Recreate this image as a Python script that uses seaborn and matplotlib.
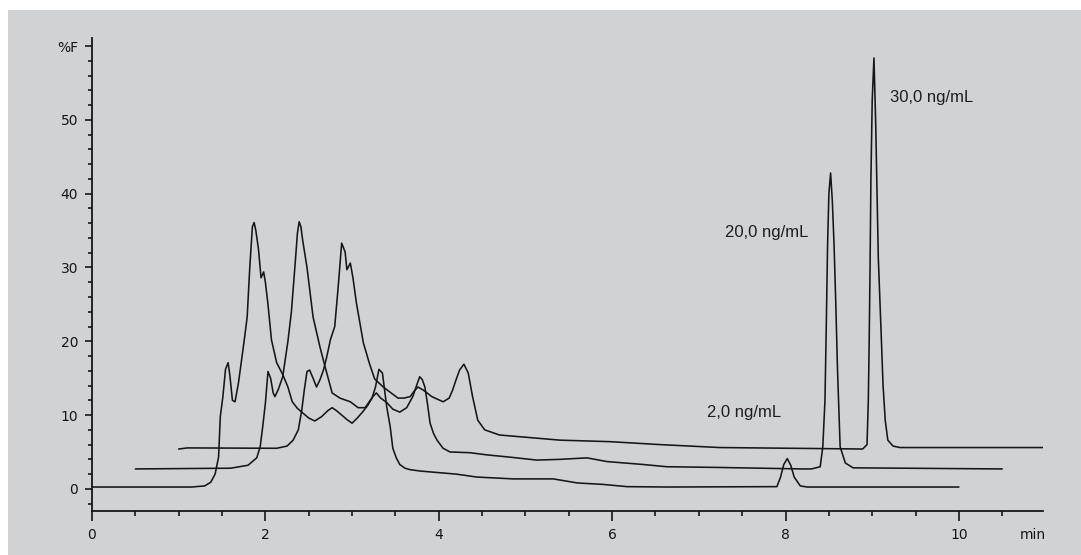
import numpy as np
import matplotlib
matplotlib.use("Agg")
import matplotlib.pyplot as plt
from matplotlib.patches import Rectangle
from matplotlib.ticker import MultipleLocator
import seaborn as sns

# chromatogram traces, (time in min, %F)
trace_2ng = [
    (0.00, 0.25), (1.15, 0.25), (1.30, 0.4), (1.37, 0.9), (1.42, 2.0), (1.46, 4.3),
    (1.48, 9.8), (1.51, 12.5), (1.54, 16.2), (1.57, 17.1), (1.59, 15.4), (1.62, 12.0),
    (1.65, 11.8), (1.69, 14.4), (1.72, 17.0), (1.76, 20.5), (1.79, 23.3), (1.82, 30.0),
    (1.85, 35.5), (1.87, 36.1), (1.89, 35.0), (1.92, 32.5), (1.95, 28.6), (1.98, 29.4),
    (2.00, 28.0), (2.03, 25.0), (2.07, 20.2), (2.13, 17.1), (2.20, 15.5), (2.26, 13.8),
    (2.31, 11.8), (2.37, 10.9), (2.42, 10.4), (2.50, 9.6), (2.57, 9.2), (2.65, 9.8),
    (2.72, 10.6), (2.77, 11.0), (2.82, 10.6), (2.88, 10.0), (2.94, 9.4), (3.00, 8.9),
    (3.06, 9.6), (3.12, 10.4), (3.18, 11.3), (3.23, 12.3), (3.27, 13.8), (3.31, 16.2),
    (3.35, 15.7), (3.40, 11.1), (3.44, 8.4), (3.47, 5.5), (3.51, 4.2), (3.55, 3.3),
    (3.61, 2.8), (3.67, 2.6), (3.80, 2.4), (4.00, 2.2), (4.20, 2.0), (4.44, 1.6),
    (4.86, 1.35), (5.32, 1.35), (5.60, 0.8), (5.90, 0.6), (6.17, 0.3), (6.64, 0.25),
    (7.90, 0.3), (7.94, 1.5), (7.98, 3.3), (8.02, 4.1), (8.06, 3.2), (8.10, 1.6),
    (8.17, 0.4), (8.25, 0.25), (10.00, 0.25),
]

trace_20ng = [
    (0.50, 2.7), (1.60, 2.8), (1.80, 3.2), (1.90, 4.2), (1.94, 5.7), (1.97, 8.5),
    (2.00, 11.6), (2.03, 15.9), (2.06, 15.0), (2.09, 13.0), (2.11, 12.5), (2.15, 13.5),
    (2.20, 15.2), (2.26, 20.0), (2.30, 24.0), (2.34, 30.0), (2.37, 34.7), (2.39, 36.2),
    (2.41, 35.5), (2.43, 33.7), (2.48, 30.0), (2.55, 23.3), (2.63, 19.2), (2.69, 16.5),
    (2.77, 13.0), (2.86, 12.3), (2.98, 11.8), (3.07, 11.0), (3.15, 11.0), (3.24, 12.5),
    (3.28, 13.0), (3.33, 12.3), (3.40, 11.7), (3.47, 10.8), (3.55, 10.4), (3.63, 11.0),
    (3.70, 12.5), (3.75, 14.2), (3.78, 15.2), (3.81, 14.8), (3.84, 13.8), (3.87, 11.5),
    (3.90, 8.9), (3.94, 7.5), (3.98, 6.6), (4.05, 5.5), (4.13, 5.0), (4.36, 4.9),
    (4.56, 4.6), (4.82, 4.3), (5.13, 3.9), (5.40, 4.0), (5.71, 4.2), (5.94, 3.7),
    (6.36, 3.3), (6.63, 3.0), (7.24, 2.9), (8.19, 2.7), (8.30, 2.7), (8.40, 3.0),
    (8.43, 5.7), (8.455, 12.0), (8.47, 22.0), (8.485, 33.0), (8.50, 40.0), (8.52, 42.8),
    (8.54, 39.0), (8.56, 33.0), (8.58, 25.0), (8.60, 16.0), (8.63, 5.7), (8.69, 3.5),
    (8.78, 2.85), (10.50, 2.7),
]

trace_30ng = [
    (1.00, 5.4), (1.10, 5.55), (2.13, 5.5), (2.25, 5.8), (2.32, 6.6), (2.38, 8.0),
    (2.42, 10.7), (2.45, 13.5), (2.48, 15.9), (2.51, 16.1), (2.55, 15.0), (2.59, 13.8),
    (2.63, 14.8), (2.67, 16.1), (2.71, 18.0), (2.75, 20.2), (2.80, 22.0), (2.84, 27.4),
    (2.88, 33.3), (2.92, 32.1), (2.94, 29.7), (2.98, 30.6), (3.01, 28.6), (3.05, 25.2),
    (3.09, 22.5), (3.13, 19.8), (3.20, 17.0), (3.26, 14.9), (3.36, 13.8), (3.45, 13.0),
    (3.53, 12.3), (3.60, 12.3), (3.67, 12.5), (3.72, 13.3), (3.76, 13.8), (3.82, 13.4),
    (3.92, 12.5), (4.05, 11.8), (4.12, 12.3), (4.16, 13.4), (4.20, 14.8), (4.24, 16.1),
    (4.29, 16.9), (4.34, 15.7), (4.39, 12.5), (4.45, 9.3), (4.53, 8.0), (4.70, 7.3),
    (5.00, 7.0), (5.40, 6.6), (5.97, 6.4), (6.55, 6.0), (7.24, 5.6), (8.89, 5.4),
    (8.94, 6.0), (8.955, 12.0), (8.965, 20.0), (8.975, 30.0), (8.985, 42.0), (9.00, 52.7),
    (9.02, 58.4), (9.04, 49.6), (9.07, 31.4), (9.10, 22.0), (9.125, 14.0), (9.15, 9.3),
    (9.18, 6.6), (9.24, 5.8), (9.32, 5.6), (10.97, 5.6),
]

traces = [trace_2ng, trace_20ng, trace_30ng]
labels = ["2,0 ng/mL", "20,0 ng/mL", "30,0 ng/mL"]
label_pos = [(7.09, 10.4), (7.30, 34.8), (9.20, 53.1)]

x_ticks = [0, 2, 4, 6, 8, 10]
y_ticks = [0, 10, 20, 30, 40, 50, 60]
y_tick_labels = ["0", "10", "20", "30", "40", "50", "%F"]

bg = "#d1d2d4"
ink = "#161616"

sns.set_style("ticks")
plt.rcParams["font.family"] = ["DejaVu Sans"]

fig = plt.figure(figsize=(10.81, 5.55), dpi=100)
fig.patch.set_facecolor("white")
fig.patches.append(Rectangle((8 / 1081, 0), 1, 1 - 10 / 555,
                             transform=fig.transFigure, facecolor=bg,
                             edgecolor="none", zorder=-10))

ax = fig.add_axes([92 / 1081, 44 / 555, 951 / 1081, 473 / 555])
ax.set_facecolor("none")

for tr in traces:
    t = np.array([p[0] for p in tr])
    s = np.array([p[1] for p in tr])
    sns.lineplot(x=t, y=s, sort=False, estimator=None, color=ink,
                 linewidth=1.15, ax=ax)

for lab, (lx, ly) in zip(labels, label_pos):
    ax.text(lx, ly, lab, fontsize=12, family="Liberation Sans",
            color="#1e1e1e", va="center", ha="left")

ax.set_xlim(0, 10.97)
ax.set_ylim(-3, 61.1)

ax.set_xticks(x_ticks + [10.85])
ax.set_xticklabels([str(v) for v in x_ticks] + ["min"])
ax.xaxis.get_major_ticks()[-1].tick1line.set_visible(False)
ax.xaxis.set_minor_locator(MultipleLocator(0.5))

ax.set_yticks(y_ticks)
ax.set_yticklabels(y_tick_labels)
ax.yaxis.set_minor_locator(MultipleLocator(2))

ax.tick_params(axis="x", which="major", length=7, width=1.2, pad=5,
               labelsize=10, colors=ink)
ax.tick_params(axis="x", which="minor", length=3.5, width=1.2, colors=ink)
ax.tick_params(axis="y", which="major", length=5, width=1.2, pad=5,
               labelsize=10, colors=ink)
ax.tick_params(axis="y", which="minor", length=3, width=1.2, colors=ink)

sns.despine(ax=ax, top=True, right=True)
for side in ("left", "bottom"):
    ax.spines[side].set_color(ink)
    ax.spines[side].set_linewidth(1.3)

ax.set_xlabel("")
ax.set_ylabel("")

fig.savefig("out.png", dpi=100, facecolor=fig.get_facecolor())
